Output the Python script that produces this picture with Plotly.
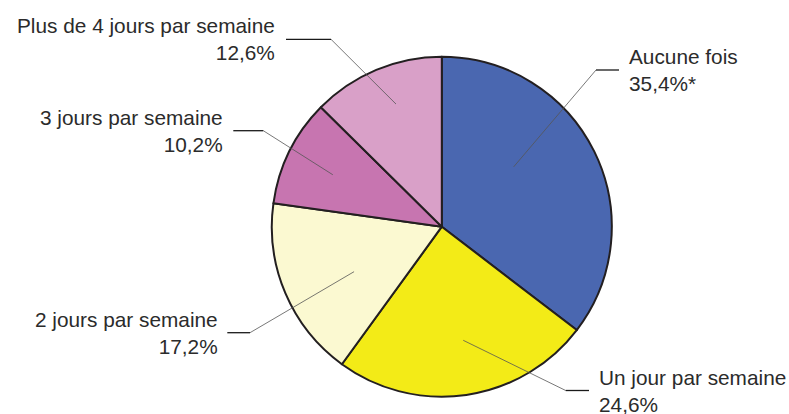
import math
import plotly.graph_objects as go

# ---- data ----
categories = ["Aucune fois", "Un jour par semaine", "2 jours par semaine",
              "3 jours par semaine", "Plus de 4 jours par semaine"]
values = [35.4, 24.6, 17.2, 10.2, 12.6]
value_labels = ["35,4%*", "24,6%", "17,2%", "10,2%", "12,6%"]

# ---- style ----
colors = ["#4a67b0", "#f3eb17", "#fbf9d1", "#c775b0", "#d9a0c8"]
W, H = 789, 414
CX, CY, R = 441.8, 226.7, 170.0

# label layout: side, text anchor x (px), elbow (px), radial fraction, angle offset (deg)
label_layout = [
    dict(side="right", tx=626.5, ex=596, ey=70.0, hx=619, rf=0.55, da=-13.5),
    dict(side="right", tx=597.0, ex=565.7, ey=390.5, hx=589, rf=0.68, da=-2.4),
    dict(side="left", tx=219.5, ex=250.0, ey=332.7, hx=227.3, rf=0.58, da=-4.1),
    dict(side="left", tx=224.5, ex=263.3, ey=130.7, hx=233.3, rf=0.71, da=-0.8),
    dict(side="left", tx=277.0, ex=331.0, ey=39.3, hx=286.0, rf=0.77, da=2.2),
]


def px(x):
    return x / W


def py(y):
    return 1 - y / H


fig = go.Figure(go.Pie(
    labels=categories, values=values, sort=False, direction="clockwise",
    rotation=0, textinfo="none", hoverinfo="label+percent",
    marker=dict(colors=colors, line=dict(color="#231f20", width=2)),
    domain=dict(x=[px(CX - R), px(CX + R)], y=[py(CY + R), py(CY - R)]),
    showlegend=False,
))

total = sum(values)
cum = 0.0
shapes = []
annotations = []
for cat, v, vl, lay in zip(categories, values, value_labels, label_layout):
    mid = (cum + v / 2) / total * 360 + lay["da"]
    cum += v
    a = math.radians(mid)
    ix = CX + lay["rf"] * R * math.sin(a)
    iy = CY - lay["rf"] * R * math.cos(a)
    shapes.append(dict(type="line", xref="paper", yref="paper",
                       x0=px(ix), y0=py(iy), x1=px(lay["ex"]), y1=py(lay["ey"]),
                       line=dict(color="#555555", width=0.8)))
    shapes.append(dict(type="line", xref="paper", yref="paper",
                       x0=px(lay["ex"]), y0=py(lay["ey"]), x1=px(lay["hx"]), y1=py(lay["ey"]),
                       line=dict(color="#1a1a1a", width=1.3)))
    right = lay["side"] == "right"
    annotations.append(dict(
        xref="paper", yref="paper", x=px(lay["tx"]), y=py(lay["ey"]),
        xanchor="left" if right else "right", yanchor="middle",
        align="left" if right else "right", showarrow=False,
        text=f"{cat}<br>{vl}",
        font=dict(family="Liberation Sans, Arial, sans-serif", size=20.8, color="#2b2b2b"),
    ))

fig.update_layout(
    width=W, height=H, margin=dict(l=0, r=0, t=0, b=0),
    paper_bgcolor="white", plot_bgcolor="white",
    shapes=shapes, annotations=annotations,
)
fig.write_html("out.html", post_script="document.body.style.margin='0';",
               config={"displayModeBar": False})
